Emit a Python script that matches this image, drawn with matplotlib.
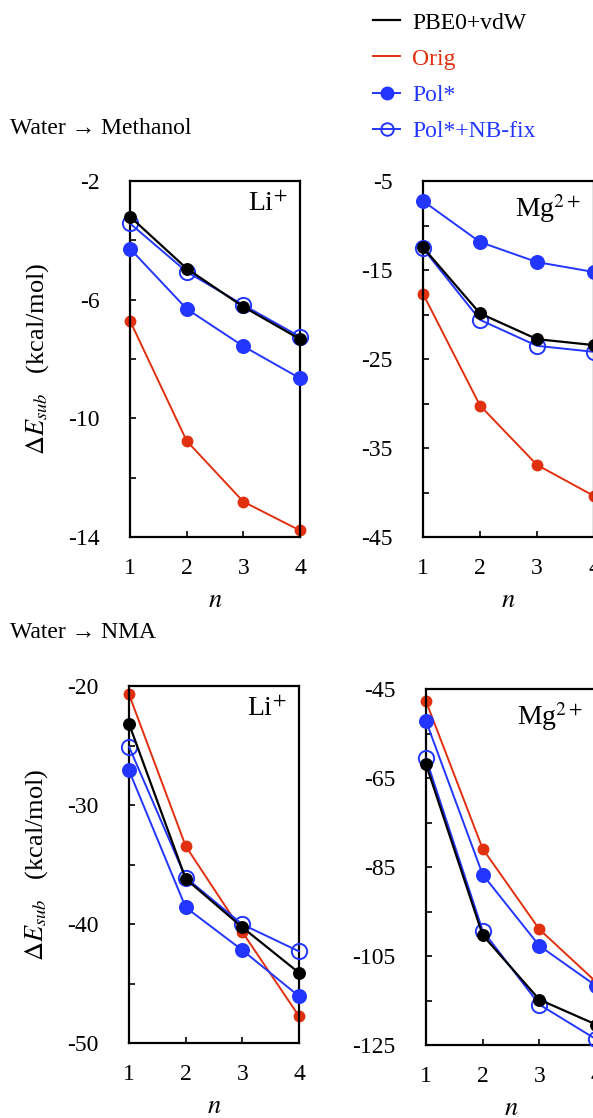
import matplotlib
matplotlib.use("Agg")
import matplotlib.pyplot as plt
from matplotlib.lines import Line2D

plt.rcParams['font.family'] = ['Liberation Serif', 'DejaVu Serif']
plt.rcParams['mathtext.fontset'] = 'stix'

n = [1, 2, 3, 4]

# Water -> Methanol, Li+
meoh_li_pbe0 = [-3.2, -4.95, -6.24, -7.33]
meoh_li_orig = [-6.71, -10.76, -12.81, -13.78]
meoh_li_pol = [-4.28, -6.31, -7.57, -8.65]
meoh_li_nbfix = [-3.43, -5.06, -6.18, -7.25]

# Water -> Methanol, Mg2+
meoh_mg_pbe0 = [-12.46, -19.88, -22.77, -23.44]
meoh_mg_orig = [-17.67, -30.23, -36.9, -40.39]
meoh_mg_pol = [-7.25, -11.86, -14.11, -15.23]
meoh_mg_nbfix = [-12.57, -20.6, -23.52, -24.2]

# Water -> NMA, Li+
nma_li_pbe0 = [-23.17, -36.2, -40.28, -44.1]
nma_li_orig = [-20.7, -33.45, -40.67, -47.75]
nma_li_pol = [-27.1, -38.6, -42.2, -46.07]
nma_li_nbfix = [-25.1, -36.1, -40.03, -42.3]

# Water -> NMA, Mg2+
nma_mg_pbe0 = [-61.9, -100.3, -114.8, -120.4]
nma_mg_orig = [-47.77, -80.9, -99.0, -110.8]
nma_mg_pol = [-52.2, -86.7, -102.7, -111.7]
nma_mg_nbfix = [-60.6, -99.3, -115.9, -123.7]

series_names = ['PBE0+vdW', 'Orig', 'Pol*', 'Pol*+NB-fix']
ion_labels = ['Li$^{+}$', 'Mg$^{2+}$']
section_titles = ['Water \u2192 Methanol', 'Water \u2192 NMA']

RED = '#e0300f'
BLUE = '#2236ff'
BLACK = '#000000'

W, H = 593, 1118
fig = plt.figure(figsize=(W / 100, H / 100), dpi=100)


def px_axes(left, top, width, height):
    return fig.add_axes([left / W, 1 - (top + height) / H, width / W, height / H])


panels = [
    (130, 181, 170, 356, (meoh_li_pbe0, meoh_li_orig, meoh_li_pol, meoh_li_nbfix),
     (-14, -2), [-2, -6, -10, -14], [-4, -8, -12], 0, True),
    (423, 181, 171, 356, (meoh_mg_pbe0, meoh_mg_orig, meoh_mg_pol, meoh_mg_nbfix),
     (-45, -5), [-5, -15, -25, -35, -45], [-10, -20, -30, -40], 1, False),
    (129, 686, 170, 357, (nma_li_pbe0, nma_li_orig, nma_li_pol, nma_li_nbfix),
     (-50, -20), [-20, -30, -40, -50], [-25, -35, -45], 0, True),
    (426, 689, 170, 356, (nma_mg_pbe0, nma_mg_orig, nma_mg_pol, nma_mg_nbfix),
     (-125, -45), [-45, -65, -85, -105, -125], [-55, -75, -95, -115], 1, False),
]

for left, top, width, height, data, ylim, majors, minors, ion, ylab in panels:
    ax = px_axes(left, top, width, height)
    pbe0, orig, pol, nbfix = data
    ax.plot(n, orig, color=RED, lw=1.4, marker='o', ms=7.5, mfc=RED, mec=RED, zorder=2)
    ax.plot(n, pol, color=BLUE, lw=1.4, marker='o', ms=9.8, mfc=BLUE, mec=BLUE, zorder=3)
    ax.plot(n, nbfix, color=BLUE, lw=1.4, marker='o', ms=11, mfc='none', mec=BLUE,
            mew=1.4, zorder=4)
    ax.plot(n, pbe0, color=BLACK, lw=1.6, marker='o', ms=8.3, mfc=BLACK, mec=BLACK,
            zorder=5)
    ax.set_xlim(1, 4)
    ax.set_ylim(*ylim)
    ax.set_xticks(n)
    ax.set_yticks(majors)
    ax.set_yticks(minors, minor=True)
    ax.set_yticklabels([str(v) for v in majors])
    ax.tick_params(axis='both', which='both', direction='in', labelsize=17,
                   width=1.2)
    ax.tick_params(axis='y', which='major', length=4, pad=22)
    ax.tick_params(axis='y', which='minor', length=4)
    ax.tick_params(axis='x', which='major', length=4, pad=15)
    for sp in ax.spines.values():
        sp.set_linewidth(1.6)
    for c in ax.get_children():
        if isinstance(c, Line2D):
            c.set_clip_on(False)
    ax.set_xlabel('$n$', fontsize=19, labelpad=8)
    if ylab:
        ax.set_ylabel(r'$\Delta E_{sub}$   (kcal/mol)', fontsize=19, labelpad=12)
    ax.text(1 - 13 / width, 1 - 11 / height, ion_labels[ion], transform=ax.transAxes,
            ha='right', va='top', fontsize=20)

fig.text(10 / W, 1 - 128 / H, section_titles[0], fontsize=17, va='center', ha='left')
fig.text(10 / W, 1 - 632 / H, section_titles[1], fontsize=17, va='center', ha='left')

handles = [
    Line2D([], [], color=BLACK, lw=1.6),
    Line2D([], [], color=RED, lw=1.4),
    Line2D([], [], color=BLUE, lw=1.4, marker='o', ms=9, mfc=BLUE, mec=BLUE),
    Line2D([], [], color=BLUE, lw=1.4, marker='o', ms=9, mfc='none', mec=BLUE, mew=1.4),
]
leg = fig.legend(handles, series_names, loc='upper left',
                 bbox_to_anchor=(373 / W, 1 - 12 / H), frameon=False, fontsize=17,
                 handlelength=1.15, handletextpad=0.5, labelspacing=0.62,
                 borderaxespad=0, borderpad=0)
for txt, col in zip(leg.get_texts(), [BLACK, RED, BLUE, BLUE]):
    txt.set_color(col)

fig.savefig('out.png', dpi=100)
